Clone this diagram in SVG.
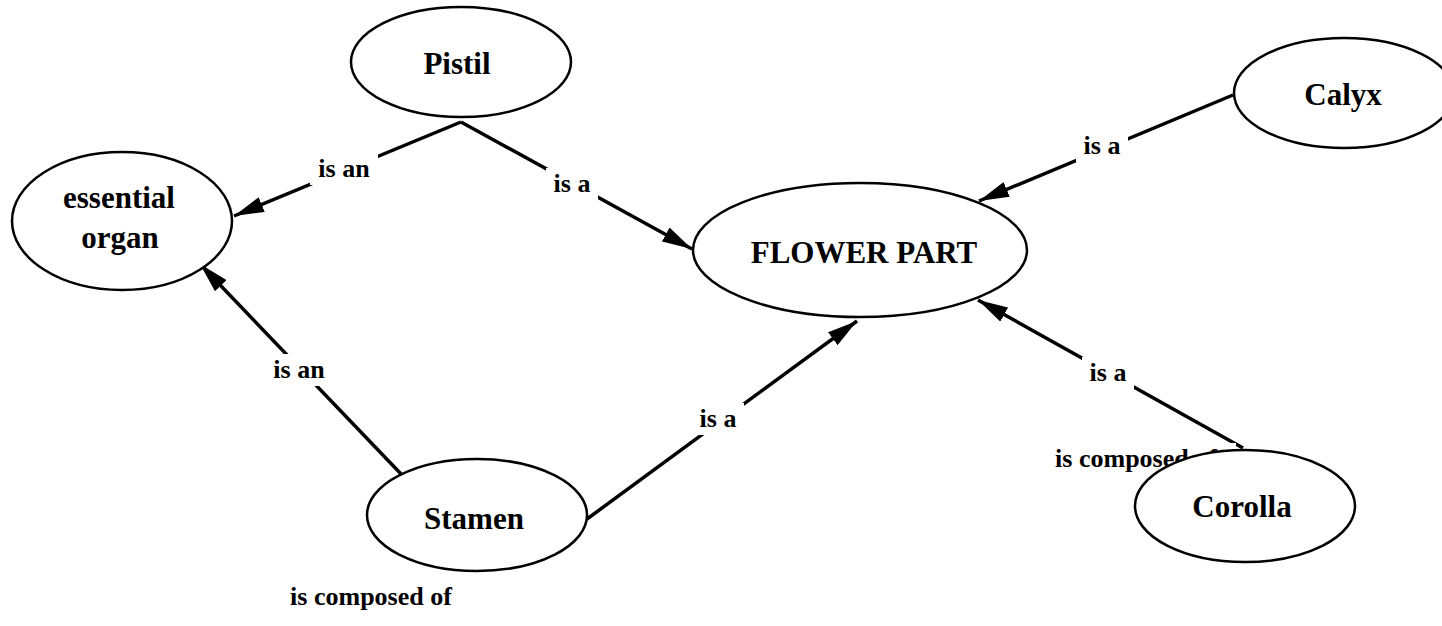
<svg xmlns="http://www.w3.org/2000/svg" width="1442" height="626" viewBox="0 0 1442 626">
  <style>
    .node ellipse { fill: #ffffff; stroke: #000000; stroke-width: 2.5; }
    .node text { font-family: "Liberation Serif", "Times New Roman", serif; font-weight: bold; font-size: 31px; fill: #000000; text-anchor: middle; }
    .edge { stroke: #000000; stroke-width: 3.5; fill: none; }
    .arrow { marker-end: url(#head); }
    .lbl rect { fill: #ffffff; stroke: none; }
    .lbl text { font-family: "Liberation Serif", "Times New Roman", serif; font-weight: bold; font-size: 26px; fill: #000000; text-anchor: middle; }
  </style>
  <defs>
    <marker id="head" markerUnits="userSpaceOnUse" markerWidth="30" markerHeight="16" refX="30" refY="8" orient="auto">
      <path d="M0,0 L30,8 L0,16 z" fill="#000000"/>
    </marker>
  </defs>
  <rect width="1442" height="626" fill="#ffffff"/>

  <g id="connectors">
    <line class="edge arrow" x1="461" y1="122" x2="234" y2="216"/>
    <line class="edge arrow" x1="461" y1="122" x2="692" y2="249"/>
    <line class="edge arrow" x1="1233" y1="95" x2="979" y2="201"/>
    <line class="edge arrow" x1="1243" y1="448" x2="978" y2="300"/>
    <line class="edge arrow" x1="402" y1="475" x2="200" y2="264"/>
    <line class="edge arrow" x1="587" y1="519" x2="857" y2="321"/>
  </g>

  <g id="labels">
    <g class="lbl"><rect x="310" y="153" width="68" height="32"/><text x="344" y="177">is an</text></g>
    <g class="lbl"><rect x="546" y="168" width="52" height="32"/><text x="572" y="192">is a</text></g>
    <g class="lbl"><rect x="1076" y="130" width="52" height="32"/><text x="1102" y="154">is a</text></g>
    <g class="lbl"><rect x="1082" y="357" width="52" height="32"/><text x="1108" y="381">is a</text></g>
    <g class="lbl"><rect x="265" y="354" width="68" height="32"/><text x="299" y="378">is an</text></g>
    <g class="lbl"><rect x="692" y="403" width="52" height="32"/><text x="718" y="427">is a</text></g>
    <g class="lbl"><rect x="1050" y="443" width="186" height="32"/><text x="1136" y="467">is composed of</text></g>
    <g class="lbl"><rect x="286" y="581" width="170" height="32"/><text x="371" y="605">is composed of</text></g>
  </g>

  <g id="pistil" class="node">
    <ellipse cx="461" cy="62" rx="110" ry="55"/>
    <text x="457" y="74">Pistil</text>
  </g>
  <g id="essential-organ" class="node">
    <ellipse cx="122" cy="221" rx="110" ry="69"/>
    <text x="119" y="208">essential</text>
    <text x="120" y="248">organ</text>
  </g>
  <g id="flower-part" class="node">
    <ellipse cx="860" cy="250" rx="167" ry="67"/>
    <text x="864" y="263">FLOWER PART</text>
  </g>
  <g id="calyx" class="node">
    <ellipse cx="1344" cy="93" rx="110" ry="55"/>
    <text x="1343" y="105">Calyx</text>
  </g>
  <g id="corolla" class="node">
    <ellipse cx="1245" cy="506" rx="110" ry="56"/>
    <text x="1242" y="517">Corolla</text>
  </g>
  <g id="stamen" class="node">
    <ellipse cx="477" cy="515" rx="110" ry="56"/>
    <text x="474" y="529">Stamen</text>
  </g>
</svg>
